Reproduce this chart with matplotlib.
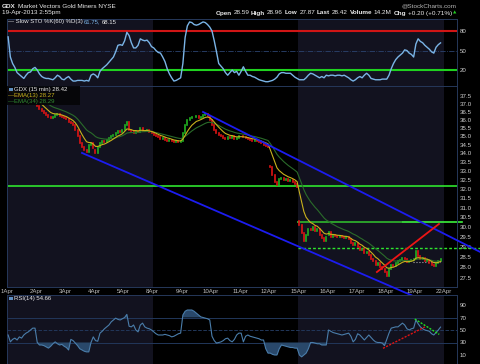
"""
GDX 15-min chart, 1-19 Apr 2013, StockCharts style:
Slow STO panel, price panel (log scale) with EMAs + trendlines, RSI panel.
"""
import numpy as np
import pandas as pd
import matplotlib
matplotlib.use('Agg')
import matplotlib.pyplot as plt
from matplotlib.patches import Rectangle

W, H = 480, 364
BPD = 13  # half-hour bars per session

day_labels = ['1Apr', '2Apr', '3Apr', '4Apr', '5Apr', '8Apr', '9Apr', '10Apr',
              '11Apr', '12Apr', '15Apr', '16Apr', '17Apr', '18Apr', '19Apr', '22Apr']

# opening price of each session (gaps on 12Apr / 15Apr)
day_open = [37.9, 36.95, 36.1, 34.2, 35.4, 35.2, 34.7, 36.0, 35.0, 33.3,
            30.3, 29.6, 29.2, 27.8, 28.4]

close_wk1 = [37.8, 37.7, 37.75, 37.6, 37.5, 37.45, 37.4, 37.35, 37.4, 37.45, 37.4, 37.3, 37.2,
             36.85, 36.7, 36.55, 36.45, 36.3, 36.2, 36.1, 36.2, 36.3, 36.35, 36.25, 36.2, 36.1,
             36.05, 35.9, 35.8, 35.7, 35.4, 35.0, 34.6, 34.35, 34.2, 34.1, 34.5, 34.6, 34.3,
             34.0, 34.4, 34.6, 34.7, 34.65, 34.8, 34.9, 35.0, 35.1, 35.2, 35.3, 35.25, 35.4,
             35.7, 35.9, 35.4, 35.3, 35.2, 35.35, 35.25, 35.5, 35.35, 35.3, 35.4, 35.25, 35.2]
close_wk2 = [35.1, 35.0, 34.95, 34.85, 34.9, 34.8, 34.75, 34.8, 34.7, 34.65, 34.7, 34.65, 34.7,
             35.2, 35.7, 36.0, 36.1, 36.2, 36.15, 36.25, 36.1, 36.2, 36.3, 36.35, 36.25, 36.0,
             35.7, 35.4, 35.2, 35.1, 35.0, 34.9, 34.85, 34.95, 34.9, 35.0, 34.85, 34.9, 35.0,
             35.0, 34.95, 34.9, 34.85, 34.8, 34.75, 34.8, 34.7, 34.65, 34.6, 34.5, 34.45, 34.4,
             33.2, 32.8, 32.4, 32.2, 32.55, 32.6, 32.5, 32.55, 32.45, 32.5, 32.4, 32.3, 32.1]
close_wk3 = [30.1, 29.7, 29.3, 29.6, 29.9, 29.85, 30.0, 29.8, 29.9, 29.6, 29.45, 29.3, 29.5,
             29.75, 29.5, 29.6, 29.55, 29.5, 29.55, 29.5, 29.45, 29.5, 29.4, 29.2, 29.1, 29.2,
             29.0, 28.85, 28.9, 28.7, 28.75, 28.6, 28.4, 28.3, 28.1, 28.2, 28.0, 27.9, 27.8,
             27.6, 27.9, 28.1, 28.05, 28.2, 28.3, 28.35, 28.45, 28.4, 28.25, 28.3, 28.35, 28.4,
             28.8, 28.55, 28.4, 28.45, 28.3, 28.35, 28.2, 28.1, 28.05, 28.2, 28.3, 28.42]

sto_wk1 = [71, 40, 30, 24, 16, 13, 10, 7, 12, 16, 17, 22, 24,
           20, 14, 10, 8, 7, 7, 6, 5, 8, 12, 10, 6, 5,
           8, 10, 6, 3, 3, 4, 4, 4, 3, 4, 3, 12, 14,
           12, 8, 18, 22, 25, 28, 32, 36, 40, 48, 58, 59, 58,
           65, 78, 73, 62, 54, 54, 58, 68, 66, 65, 66, 62, 56]
sto_wk2 = [54, 50, 47, 46, 40, 33, 22, 14, 8, 3, 4, 6, 8,
           30, 70, 88, 94, 93, 90, 89, 90, 92, 94, 93, 90, 86,
           80, 65, 48, 30, 26, 22, 16, 12, 16, 20, 16, 18, 12,
           18, 25, 18, 12, 12, 10, 9, 7, 5, 4, 3, 2, 2,
           3, 4, 6, 9, 14, 16, 16, 15, 15, 15, 12, 9, 7]
sto_wk3 = [5, 5, 5, 8, 12, 15, 14, 12, 10, 8, 10, 8, 12,
           11, 12, 12, 11, 12, 12, 11, 12, 10, 8, 5, 3, 5,
           8, 10, 8, 12, 15, 12, 7, 6, 5, 5, 5, 6, 6,
           6, 12, 22, 30, 36, 40, 43, 46, 51, 50, 46, 44, 40,
           60, 68, 64, 62, 58, 55, 52, 48, 46, 55, 59, 61.75]

rsi_wk1 = [42, 31, 35, 37, 34, 39, 37, 42, 45, 47, 50, 53, 53,
           30, 26, 26, 25, 23, 21, 24, 28, 31, 28, 26, 27, 24,
           22, 18, 35, 33, 29, 25, 20, 18, 16, 15, 15, 30, 39,
           33, 32, 45, 48, 52, 55, 58, 63, 66, 69, 67, 66, 68,
           70, 75, 56, 55, 58, 50, 47, 58, 61, 55, 53, 52, 50]
rsi_wk2 = [47, 44, 42, 42, 42, 43, 42, 41, 39, 40, 42, 44, 45,
           74, 80, 82, 82, 82, 80, 77, 74, 71, 70, 69, 68, 66,
           40, 33, 29, 30, 31, 33, 36, 37, 33, 31, 35, 42, 45,
           45, 31, 40, 42, 40, 39, 38, 37, 36, 34, 34, 20, 13,
           13, 11, 10, 10, 20, 26, 25, 24, 23, 22, 22, 21, 21]
rsi_wk3 = [10, 7, 10, 13, 20, 30, 30, 29, 28, 28, 26, 26, 26,
           50, 48, 46, 45, 44, 43, 42, 43, 44, 45, 40, 31, 35,
           44, 42, 38, 34, 38, 42, 38, 34, 31, 30, 30, 29, 25,
           35, 45, 53, 54, 55, 55, 58, 61, 58, 52, 50, 52, 53,
           66, 60, 55, 52, 50, 49, 48, 44, 42, 46, 50, 54.66]

# hand-drawn annotations: (session index, value)
chan_upper = [(6.73, 36.49), (16.24, 28.75)]
chan_lower = [(2.575, 34.03), (14.01, 26.63)]
red_trend = [(12.70, 27.78), (14.83, 30.15)]
support_line = 32.17
resist_line = 30.25
dashed_line = 28.95
last_line = 28.24
rsi_up = [(12.91, 20.7), (14.35, 55.0)]
rsi_down = [(14.0, 67.6), (14.84, 43.0)]

BG = '#000000'
SHADE = '#12121f'
FRAME = '#26385a'
TXT = '#e8e8e8'
TICK = '#cfcfcf'
FONT = 'Liberation Sans'

close = np.array(close_wk1 + close_wk2 + close_wk3, dtype=float)
sto = np.array(sto_wk1 + sto_wk2 + sto_wk3, dtype=float)
rsi = np.array(rsi_wk1 + rsi_wk2 + rsi_wk3, dtype=float)
n = len(close)
x = (np.arange(n) + 0.5) / BPD

opens = np.r_[day_open[0], close[:-1]]
for d, o in enumerate(day_open):
    opens[d * BPD] = o

# 15-min EMA(13)/EMA(34) ~ half the span on half-hour bars
s = pd.Series(close)
ema13 = s.ewm(span=7, adjust=False).mean().values
ema34 = s.ewm(span=17, adjust=False).mean().values

fig = plt.figure(figsize=(W / 100, H / 100), dpi=100, facecolor=BG)


def rect(x0, y0, x1, y1):
    return [x0 / W, 1 - y1 / H, (x1 - x0) / W, (y1 - y0) / H]


def style(ax, yt, ylabels):
    ax.set_facecolor(BG)
    ax.axvspan(0, 5, color=SHADE, lw=0, zorder=0)
    ax.axvspan(10, 15, color=SHADE, lw=0, zorder=0)
    ax.set_xlim(0, 15.45)
    for sp in ax.spines.values():
        sp.set_color(FRAME)
        sp.set_linewidth(0.7)
    ax.yaxis.tick_right()
    ax.yaxis.set_minor_locator(plt.NullLocator())
    ax.set_yticks(yt)
    ax.set_yticklabels(ylabels)
    ax.tick_params(axis='y', length=0, pad=2.2, labelsize=4.4, labelcolor=TICK)
    for t in ax.get_yticklabels():
        t.set_family(FONT)
    ax.set_xticks([])


ax_sto = fig.add_axes(rect(7, 19, 457, 86))
ax_px = fig.add_axes(rect(7, 86, 457, 287))
ax_rsi = fig.add_axes(rect(7, 295, 457, 364))

# --- Slow STO panel
style(ax_sto, [20, 50, 80], ['20', '50', '80'])
ax_sto.set_ylim(-4.6, 98.5)
ax_sto.axhline(80, color='#d01515', lw=1.5, zorder=2)
ax_sto.axhline(20, color='#1fd21f', lw=1.5, zorder=2)
ax_sto.axhline(50, color='#2c4470', lw=0.6, ls='-.', zorder=2)
ax_sto.plot(x, sto, color='#7ab4e6', lw=1.0, zorder=3)

# --- price panel
ax_px.set_yscale('log')
yt = np.arange(27.5, 37.51, 0.5)
style(ax_px, yt, [f'{v:.1f}' for v in yt])
ax_px.set_ylim(27.08, 38.14)
ax_px.set_xticks(np.arange(16))
ax_px.set_xticklabels(day_labels)
ax_px.tick_params(axis='x', length=0, pad=1.2, labelsize=4.4, labelcolor='#bdbdbd')
for t in ax_px.get_xticklabels():
    t.set_family(FONT)

ax_px.axhline(support_line, color='#2ee52e', lw=1.2, zorder=2)
ax_px.plot([10, 15.62], [resist_line] * 2, color='#3cf03c', lw=1.2, zorder=2, clip_on=False)
ax_px.plot([10, 13.53], [resist_line] * 2, color='#2a9a2a', lw=1.4, zorder=2)
ax_px.plot([10, 16.24], [dashed_line] * 2, color='#2ee52e', lw=1.0, ls=(0, (2, 1.5)),
           zorder=2, clip_on=False)
ax_px.plot([13.94, 14.86], [last_line] * 2, color='#aaaaaa', lw=0.8, ls=':', zorder=2)

up = close >= opens
cols = np.where(up, '#21b321', '#e01414')
ax_px.vlines(x, np.minimum(opens, close), np.maximum(opens, close), colors=cols,
             lw=1.2, capstyle='projecting', zorder=3)
ax_px.plot(x, ema34, color='#2a6b2a', lw=0.8, zorder=4)
ax_px.plot(x, ema13, color='#c9b21c', lw=0.8, zorder=4)

for pts, col in [(chan_upper, '#1c1cf0'), (chan_lower, '#1c1cf0'), (red_trend, '#ee1515')]:
    xs, ys = zip(*pts)
    ax_px.plot(xs, ys, color=col, lw=1.3, zorder=5, clip_on=False)

# legend box
ax_px.add_patch(Rectangle((0, 1), 73 / 450, -19 / 201, transform=ax_px.transAxes,
                          facecolor='#050508', edgecolor='none', alpha=0.92, zorder=6))

# --- RSI panel
style(ax_rsi, [10, 30, 50, 70, 90], ['10', '30', '50', '70', '90'])
ax_rsi.set_ylim(-4.4, 106)
for lv, ls in [(70, '-'), (30, '-'), (50, '--')]:
    ax_rsi.axhline(lv, color='#22375a', lw=0.7, ls=ls, zorder=1)
ax_rsi.fill_between(x, rsi, 30, where=rsi < 30, interpolate=True, color='#29486a', lw=0, zorder=2)
ax_rsi.fill_between(x, rsi, 70, where=rsi > 70, interpolate=True, color='#29486a', lw=0, zorder=2)
ax_rsi.plot(x, rsi, color='#4a7daa', lw=0.8, zorder=3)
for pts, col in [(rsi_up, '#e01414'), (rsi_down, '#22dd22')]:
    xs, ys = zip(*pts)
    ax_rsi.plot(xs, ys, color=col, lw=1.0, ls=(0, (1.5, 1)), zorder=4)

# --- texts
renderer = fig.canvas.get_renderer()


def runs(x0, y0, items, size=4.6, align='left', gap=1.8):
    cur, objs = x0, []
    for txt, weight, color in items:
        t = fig.text(cur / W, 1 - y0 / H, txt, fontsize=size, fontweight=weight,
                     color=color, va='center', ha='left', family=FONT, zorder=10)
        cur += t.get_window_extent(renderer).width + gap
        objs.append(t)
    if align == 'right':
        shift = (cur - gap - x0) / W
        for t in objs:
            px, py = t.get_position()
            t.set_position((px - shift, py))


runs(2, 6, [('GDX', 'bold', TXT), ('Market Vectors Gold Miners NYSE', 'normal', TXT)])
runs(2, 12.5, [('19-Apr-2013 2:55pm', 'normal', TXT)])
runs(457, 6, [('@StockCharts.com', 'normal', '#b5b5b5')], align='right')
runs(452, 13, [('Open', 'bold', TXT), ('28.59', 'normal', TXT), ('High', 'bold', TXT),
               ('28.96', 'normal', TXT), ('Low', 'bold', TXT), ('27.87', 'normal', TXT),
               ('Last', 'bold', TXT), ('28.42', 'normal', TXT), ('Volume', 'bold', TXT),
               ('14.2M', 'normal', TXT), ('Chg', 'bold', TXT), ('+0.20 (+0.71%)', 'normal', TXT)],
     align='right')
fig.text(455 / W, 1 - 13 / H, '\u25b2', fontsize=3.2, color='#22cc22', va='center', ha='center')

runs(8, 22, [('\u2014 Slow STO %K(60) %D(3)', 'normal', TXT), ('61.75,', 'normal', '#7ab4e6'),
             ('68.15', 'normal', TXT)], size=4.3, gap=1.5)

fig.patches.append(Rectangle((9 / W, 1 - 91 / H), 4 / W, 3.5 / H, transform=fig.transFigure,
                             facecolor='#5f8fc0', edgecolor='none', zorder=11))
runs(14, 89.5, [('GDX (15 min) 28.42', 'normal', TXT)], size=4.3)
runs(8, 95.5, [('\u2014EMA(13) 28.27', 'normal', '#c9b21c')], size=4.3)
runs(8, 101.5, [('\u2014EMA(34) 28.29', 'normal', '#2f8a2f')], size=4.3)

fig.patches.append(Rectangle((9 / W, 1 - 300 / H), 4 / W, 3.5 / H, transform=fig.transFigure,
                             facecolor='#5f8fc0', edgecolor='none', zorder=11))
runs(14, 298.5, [('RSI(14) 54.66', 'normal', TXT)], size=4.3)

fig.savefig('out.png', dpi=100, facecolor=BG)
